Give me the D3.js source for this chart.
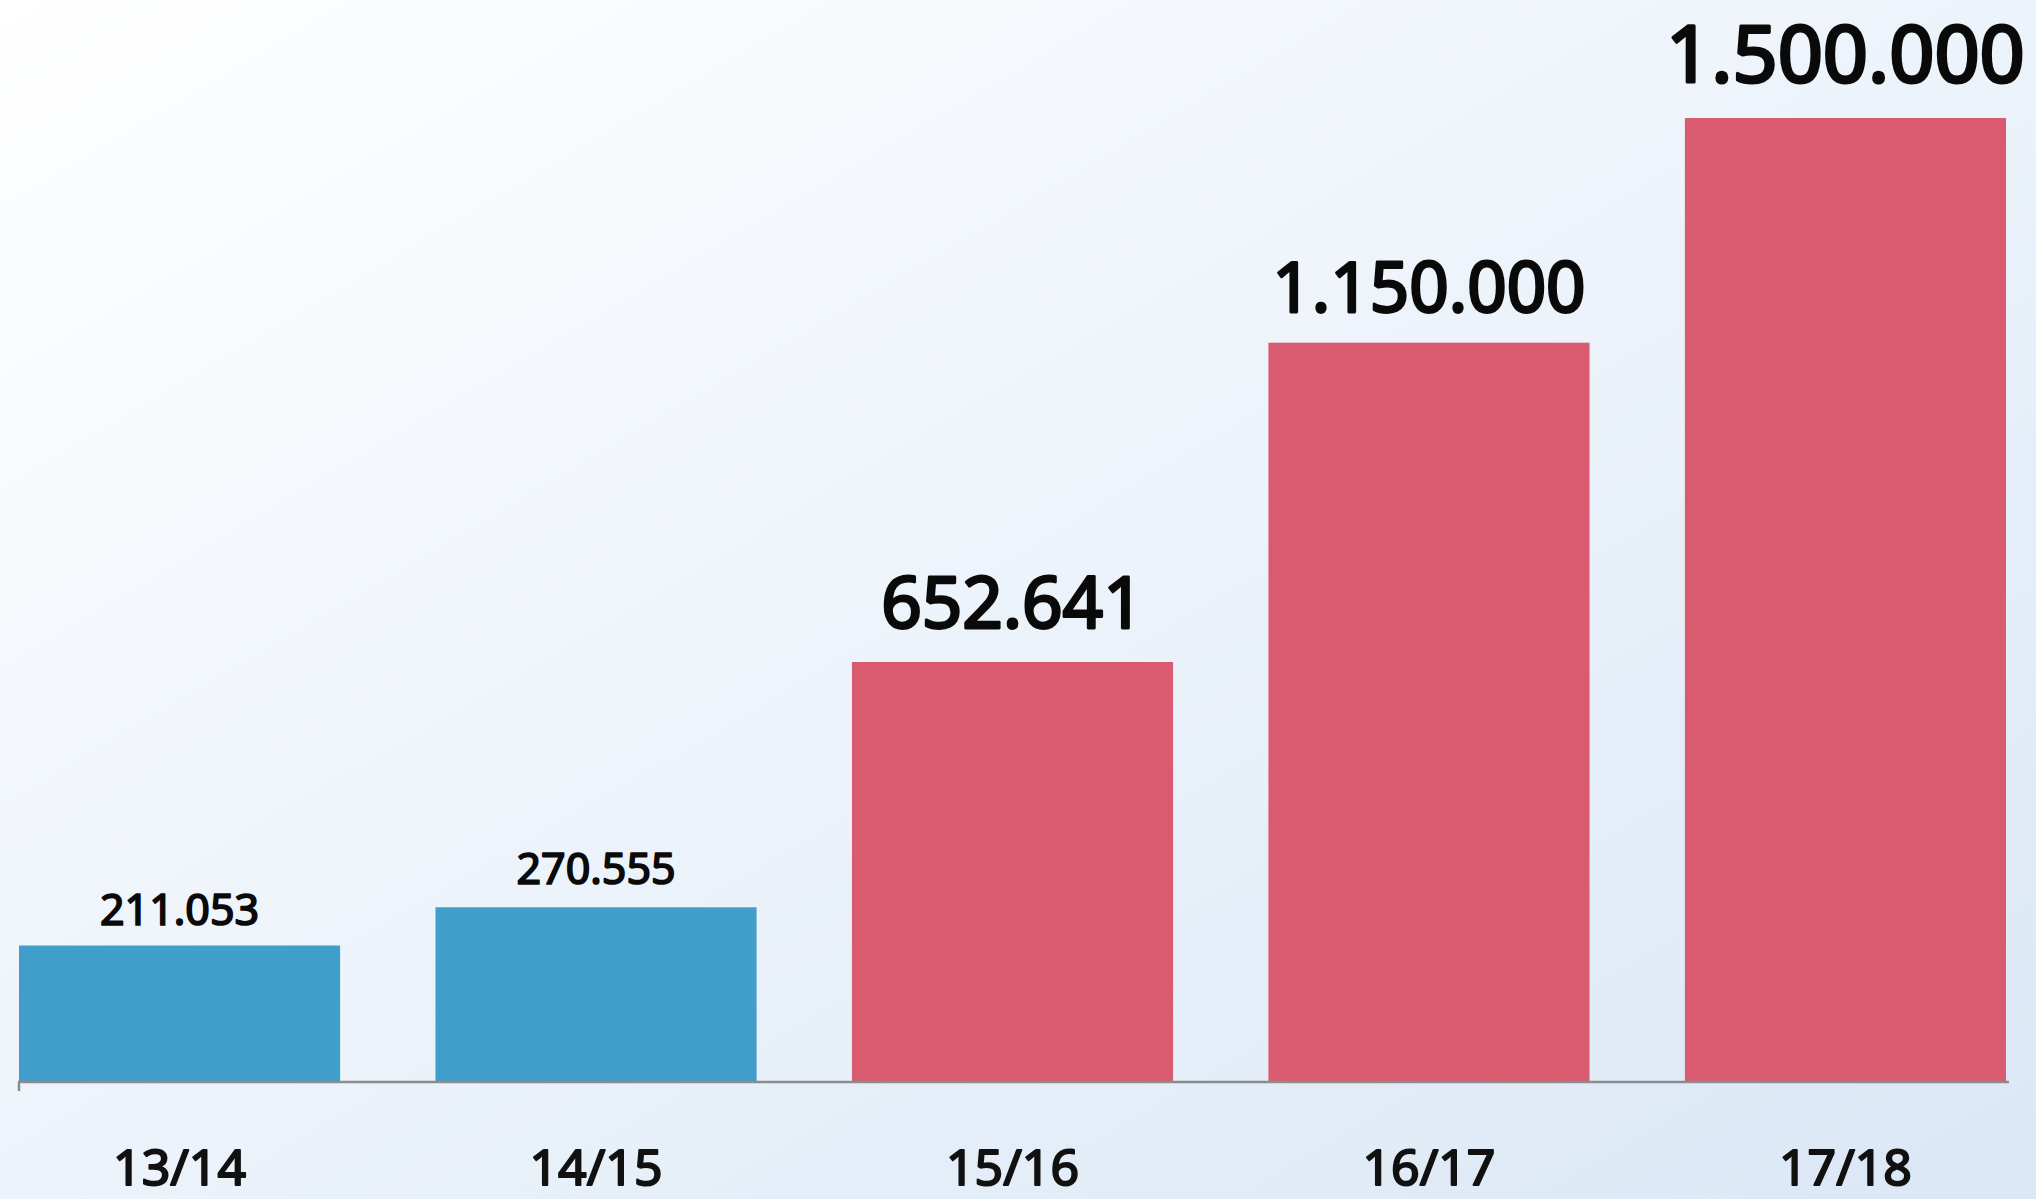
<!DOCTYPE html>
<html>
<head>
<meta charset="utf-8">
<script src="https://cdn.jsdelivr.net/npm/d3@7"></script>
<style>
  html,body{margin:0;padding:0;overflow:hidden;}
  svg{display:block;}
</style>
</head>
<body>
<div id="chart"></div>
<script>
// Season vs. value, bars coloured by period
const seasons = ['13/14','14/15','15/16','16/17','17/18'];
const values = [211053, 270555, 652641, 1150000, 1500000];
const labels = ['211.053','270.555','652.641','1.150.000','1.500.000'];
const groups = ['past','past','future','future','future'];

(function() {
  const W = 2036, H = 1199;
  const C = {past:'#419dc9', future:'#d95b6f'};
  const labelSize = [43,43,71,69,79];
  const labelGap = [21,23,34,31,36];

  const svg = d3.select('#chart').append('svg').attr('width',W).attr('height',H);

  const defs = svg.append('defs');
  const gr = defs.append('linearGradient').attr('id','bg')
    .attr('x1','0').attr('y1','0').attr('x2','1').attr('y2','1');
  gr.append('stop').attr('offset','0%').attr('stop-color','#ffffff');
  gr.append('stop').attr('offset','100%').attr('stop-color','#dae7f5');
  svg.append('rect').attr('width',W).attr('height',H).attr('fill','url(#bg)');

  const xSc = d3.scaleBand().domain(seasons).range([19,2006]).paddingInner(0.229).paddingOuter(0);
  const ySc = d3.scaleLinear().domain([0,1500000]).range([1081,118]);

  // bars
  svg.selectAll('.bar').data(seasons).join('rect').attr('class','bar')
    .attr('x',d=>xSc(d)).attr('width',xSc.bandwidth())
    .attr('y',(d,i)=>ySc(values[i])).attr('height',(d,i)=>ySc(0)-ySc(values[i]))
    .attr('fill',(d,i)=>C[groups[i]]);

  // baseline axis
  const ax = svg.append('g').attr('transform',`translate(0,${ySc(0)+1})`)
    .call(d3.axisBottom(xSc).tickSize(0).tickFormat(''));
  ax.select('.domain').attr('d','M18,0H2009').style('stroke','#8c8c8c').style('stroke-width','2.5');
  ax.append('line').attr('x1',19).attr('x2',19).attr('y1',0).attr('y2',9)
    .style('stroke','#8c8c8c').style('stroke-width','2.5');

  // category labels (regular face thickened a little with a stroke -> medium weight)
  svg.selectAll('.cat').data(seasons).join('text').attr('class','cat')
    .attr('x',d=>xSc(d)+xSc.bandwidth()/2).attr('y',1185)
    .attr('text-anchor','middle')
    .style('font-family','"Noto Sans",sans-serif').style('font-weight','400').style('font-size','50px')
    .style('fill','#111').style('stroke','#111').style('stroke-width','2px').style('stroke-linejoin','round')
    .text(d=>d);

  // value labels
  svg.selectAll('.val').data(seasons).join('text').attr('class','val')
    .attr('x',d=>xSc(d)+xSc.bandwidth()/2).attr('y',(d,i)=>ySc(values[i])-labelGap[i])
    .attr('text-anchor','middle')
    .style('font-family','"Noto Sans",sans-serif').style('font-weight','400')
    .style('font-size',(d,i)=>labelSize[i]+'px')
    .style('fill','#0a0a0a').style('stroke','#0a0a0a').style('stroke-linejoin','round')
    .style('stroke-width',(d,i)=>(labelSize[i]*0.04)+'px')
    .text((d,i)=>labels[i]);
})();
</script>
</body>
</html>
